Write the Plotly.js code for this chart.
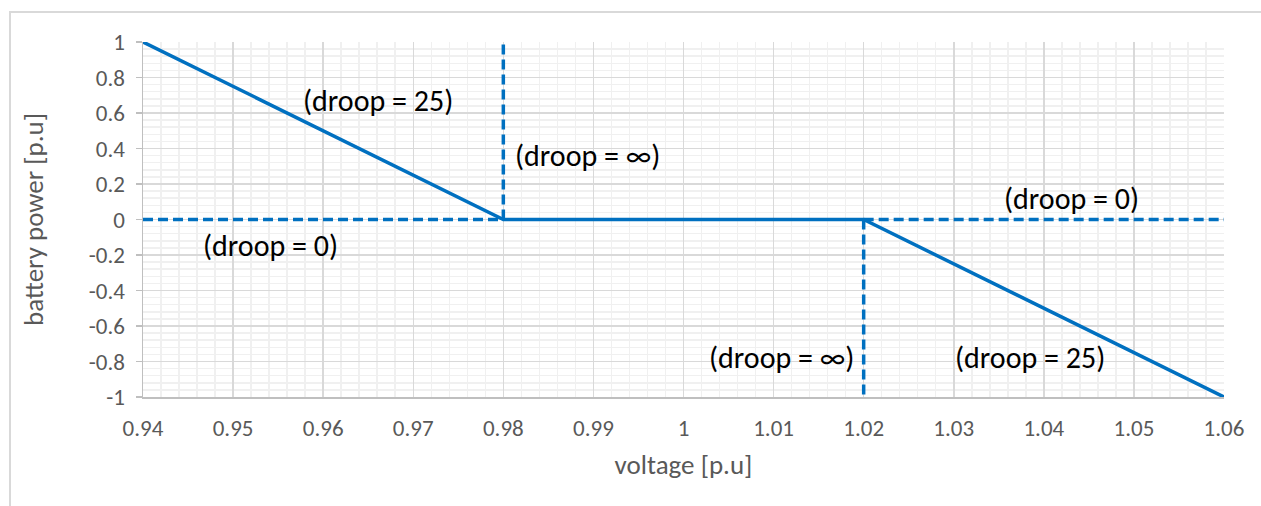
<!DOCTYPE html>
<html>
<head>
<meta charset="utf-8">
<script src="https://cdn.plot.ly/plotly-3.0.1.min.js"></script>
<style>
html,body{margin:0;padding:0;background:#fff;}
#chart{position:absolute;left:0;top:0;width:1261px;height:506px;}
#frame{position:absolute;left:9px;top:11px;width:1300px;height:600px;border-left:2px solid #d9d9d9;border-top:2px solid #d9d9d9;pointer-events:none;}
</style>
</head>
<body>
<div id="frame"></div>
<div id="chart"></div>
<script>
// Solid droop characteristic
const droopV = [0.94, 0.98, 1.02, 1.06];
const droopP = [1, 0, 0, -1];
// Dashed: droop = 0 (left and right)
const zeroLeftV = [0.94, 0.98];
const zeroLeftP = [0, 0];
const zeroRightV = [1.02, 1.06];
const zeroRightP = [0, 0];
// Dashed: droop = infinity (vertical)
const infLeftV = [0.98, 0.98];
const infLeftP = [0, 1];
const infRightV = [1.02, 1.02];
const infRightP = [0, -1];
// Tick labels
const xTickVals = [0.94, 0.95, 0.96, 0.97, 0.98, 0.99, 1, 1.01, 1.02, 1.03, 1.04, 1.05, 1.06];
const xTickText = ["0.94","0.95","0.96","0.97","0.98","0.99","1","1.01","1.02","1.03","1.04","1.05","1.06"];
const yTickVals = [1, 0.8, 0.6, 0.4, 0.2, 0, -0.2, -0.4, -0.6, -0.8, -1];
const yTickText = ["1","0.8","0.6","0.4","0.2","0","-0.2","-0.4","-0.6","-0.8","-1"];
// Annotations
const labelText = ["(droop = 25)", "(droop = ∞)", "(droop = 0)", "(droop = 0)", "(droop = ∞)", "(droop = 25)"];
const labelV = [0.9661, 0.9893, 0.9541, 1.0431, 1.0109, 1.0385];
const labelP = [0.673, 0.363, -0.149, 0.121, -0.775, -0.775];

const blue = '#0070C0';
const dashed = {color: blue, width: 3.5, dash: '10px,5px'};
const traces = [
  {x: zeroLeftV, y: zeroLeftP, mode: 'lines', line: dashed},
  {x: zeroRightV, y: zeroRightP, mode: 'lines', line: dashed},
  {x: infLeftV, y: infLeftP, mode: 'lines', line: dashed},
  {x: infRightV, y: infRightP, mode: 'lines', line: dashed},
  {x: droopV, y: droopP, mode: 'lines', line: {color: blue, width: 3.5}}
];

const font = 'Carlito, Calibri, "Open Sans", "Noto Sans", sans-serif';
const annotations = labelText.map((t, i) => ({
  x: labelV[i], y: labelP[i], xref: 'x', yref: 'y', text: t, showarrow: false,
  font: {family: font, size: 30, color: '#000000'}, xanchor: 'center', yanchor: 'middle'
}));

const layout = {
  width: 1261, height: 506,
  margin: {l: 143, r: 37, t: 42, b: 109},
  paper_bgcolor: 'rgba(0,0,0,0)', plot_bgcolor: 'rgba(0,0,0,0)',
  showlegend: false,
  font: {family: font, color: '#595959', size: 23},
  xaxis: {
    range: [0.94, 1.06], tickvals: xTickVals, ticktext: xTickText,
    showgrid: true, gridcolor: '#d9d9d9', gridwidth: 1.5,
    minor: {dtick: 0.002, tick0: 0.94, showgrid: true, gridcolor: '#f0f0f0', gridwidth: 1.5},
    showline: true, linecolor: '#bfbfbf', linewidth: 1.5,
    ticks: '', zeroline: false, ticklabelstandoff: 10,
    tickfont: {size: 23, color: '#595959'},
    title: {text: 'voltage [p.u]', font: {size: 27, color: '#595959'}, standoff: 14}
  },
  yaxis: {
    range: [-1, 1], tickvals: yTickVals, ticktext: yTickText,
    showgrid: true, gridcolor: '#d9d9d9', gridwidth: 1.5,
    minor: {dtick: 0.04, tick0: -1, showgrid: true, gridcolor: '#f0f0f0', gridwidth: 1.5},
    showline: true, linecolor: '#bfbfbf', linewidth: 1.5,
    ticks: 'outside', ticklen: 6, tickcolor: '#bfbfbf', tickwidth: 1.5,
    zeroline: false, ticklabelstandoff: 6,
    tickfont: {size: 23, color: '#595959'},
    title: {text: 'battery power [p.u]', font: {size: 27, color: '#595959'}, standoff: 37}
  },
  annotations: annotations
};

Plotly.newPlot('chart', traces, layout, {staticPlot: true, displayModeBar: false});
</script>
</body>
</html>
